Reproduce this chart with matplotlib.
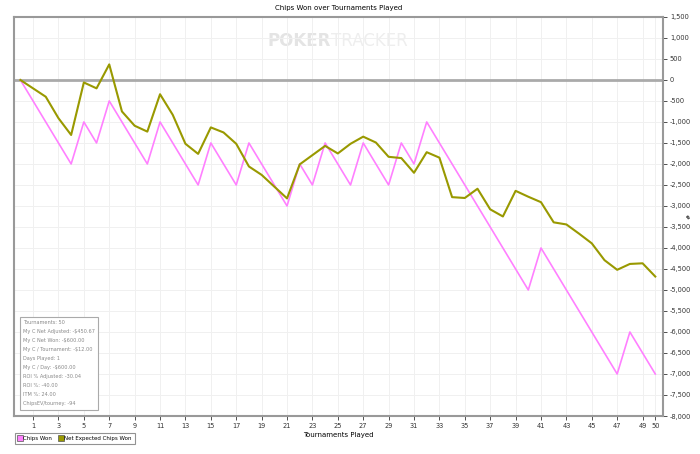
import numpy as np
import matplotlib.pyplot as plt
from matplotlib.lines import Line2D
from matplotlib.ticker import FuncFormatter

# Datos
tournaments = list(range(0, 51))
chips_won = [0, -500, -1000, -1500, -2000, -1000, -1500, -500, -1000, -1500,
             -2000, -1000, -1500, -2000, -2500, -1500, -2000, -2500, -1500, -2000,
             -2500, -3000, -2000, -2500, -1500, -2000, -2500, -1500, -2000, -2500,
             -1500, -2000, -1000, -1500, -2000, -2500, -3000, -3500, -4000, -4500,
             -5000, -4000, -4500, -5000, -5500, -6000, -6500, -7000, -6000, -6500,
             -7000]
net_expected = [0, -200, -400, -910, -1310, -60, -200, 370, -750, -1090,
                -1230, -340, -830, -1520, -1760, -1130, -1250, -1520, -2060, -2260,
                -2540, -2820, -2010, -1790, -1570, -1750, -1520, -1350, -1490, -1830,
                -1860, -2210, -1720, -1850, -2790, -2810, -2590, -3080, -3250, -2640,
                -2780, -2910, -3390, -3440, -3660, -3890, -4290, -4520, -4380, -4365,
                -4680]
x_ticks = list(range(1, 50, 2)) + [50]
stats = ["Tournaments: 50", "My C Net Adjusted: -$450.67", "My C Net Won: -$600.00",
         "My C / Tournament: -$12.00", "Days Played: 1", "My C / Day: -$600.00",
         "ROI % Adjusted: -30.04", "ROI %: -40.00", "ITM %: 24.00", "ChipsEV/tourney: -94"]

pink = '#ff80ff'
olive = '#999900'

fig = plt.figure(figsize=(7, 4.54), dpi=100)
ax = fig.add_axes([0.02, 0.0837, 0.927, 0.879])

ax.plot(tournaments, chips_won, color=pink, lw=1.2, zorder=3)
ax.plot(tournaments, net_expected, color=olive, lw=1.5, zorder=3)
ax.axhline(0, color='#aaaaaa', lw=2, zorder=2)

ax.set_xlim(-0.5, 50.6)
ax.set_ylim(-8000, 1500)
ax.set_xticks(x_ticks)
ax.set_yticks(np.arange(-8000, 1501, 500))
ax.yaxis.set_major_formatter(FuncFormatter(lambda v, p: f'{int(v):,}'))
ax.yaxis.tick_right()
ax.yaxis.set_label_position('right')
ax.tick_params(axis='both', labelsize=4.8, colors='#333333', length=3, width=0.6, pad=2)
ax.grid(True, color='#f0f0f0', lw=0.7, zorder=0)
for s in ax.spines.values():
    s.set_color('#999999')
    s.set_linewidth(1.5)

ax.set_xlabel('Tournaments Played', fontsize=5)
ax.xaxis.set_label_coords(0.5, -0.04)
ax.set_ylabel('#', fontsize=4.5)
ax.yaxis.set_label_coords(1.036, 0.5)
ax.set_title('Chips Won over Tournaments Played', fontsize=5, pad=5)

# marca de agua
ax.text(0.488, 0.94, 'POKER', transform=ax.transAxes, fontsize=12, fontweight='bold',
        color='#e4e4e4', ha='right', va='center', zorder=1)
ax.text(0.488, 0.94, 'TRACKER', transform=ax.transAxes, fontsize=12,
        color='#eeeeee', ha='left', va='center', zorder=1)

# caja de estadisticas
ax.text(0.014, 0.024, '\n'.join(stats), transform=ax.transAxes, fontsize=3.6,
        color='#888888', ha='left', va='bottom', linespacing=2.0, zorder=4,
        bbox=dict(boxstyle='square,pad=0.7', fc='white', ec='#aaaaaa', lw=0.8))

handles = [Line2D([], [], ls='', marker='s', ms=4, mfc=pink, mec='#555555', mew=0.5),
           Line2D([], [], ls='', marker='s', ms=4, mfc=olive, mec='#555555', mew=0.5)]
leg = fig.legend(handles, ['Chips Won', 'Net Expected Chips Won'], loc='lower left',
                 bbox_to_anchor=(0.018, 0.015), ncol=2, fontsize=4.0, frameon=True,
                 fancybox=False, edgecolor='#777777', handlelength=0.6,
                 columnspacing=1.3, handletextpad=0.2, borderpad=0.6)
leg.get_frame().set_linewidth(0.8)

fig.savefig('out.png', dpi=100)
